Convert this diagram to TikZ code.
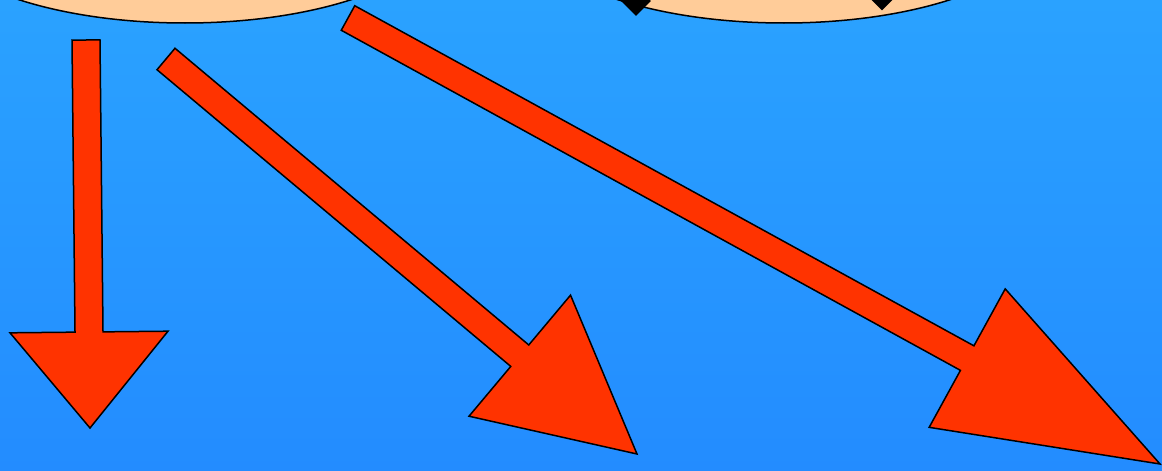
\documentclass[tikz,border=0pt]{standalone}
\usetikzlibrary{shapes.geometric, calc}

\definecolor{peach}{RGB}{255,204,153}
\definecolor{arrowred}{RGB}{255,51,0}
\definecolor{skytop}{RGB}{42,162,255}
\definecolor{skybottom}{RGB}{35,140,255}

\tikzset{
  bubble/.style={ellipse, draw=black, line width=1.5pt, fill=peach, minimum width=520pt, minimum height=202pt, inner sep=0pt},
  knob/.style={diamond, fill=black, inner sep=0pt},
  fatarrow/.style={fill=arrowred, draw=black, line width=1.5pt, line join=miter}
}

% block arrow: tail, tip, head length
\newcommand{\blockarrow}[3]{%
  \coordinate (#1-b) at ($(#2)!#3!(#1)$);
  \filldraw[fatarrow] ($(#1)!14pt!90:(#2)$) -- ($(#1-b)!14pt!90:(#2)$) -- ($(#1-b)!79pt!90:(#2)$) -- (#2)
    -- ($(#1-b)!79pt!-90:(#2)$) -- ($(#1-b)!14pt!-90:(#2)$) -- ($(#1)!14pt!-90:(#2)$) -- cycle;
}

\begin{document}
\begin{tikzpicture}[x=1pt, y=-1pt]

        % Background
        \shade[top color=skytop, bottom color=skybottom] (0,0) rectangle (1162,471);
        \useasboundingbox (0,0) rectangle (1162,471);
        \clip (0,0) rectangle (1162,471);

        % Ellipses
        \node[bubble] (left) at (185,-78) {};
        \node[bubble] (right) at (784,-78) {};

        % Diamonds on the right ellipse
        \node[knob, minimum size=30pt] (k1) at (636,1) {};
        \node[knob, minimum size=23pt] (k2) at (882,-1) {};

        % Arrows
        \coordinate (t1) at (86,40);
        \coordinate (h1) at (90,428);
        \coordinate (t2) at (166,59);
        \coordinate (h2) at (637,454);
        \coordinate (t3) at (348,18);
        \coordinate (h3) at (1160,464);
        \blockarrow{t1}{h1}{96pt}
        \blockarrow{t2}{h2}{153pt}
        \blockarrow{t3}{h3}{220pt}

    \end{tikzpicture}
\end{document}
